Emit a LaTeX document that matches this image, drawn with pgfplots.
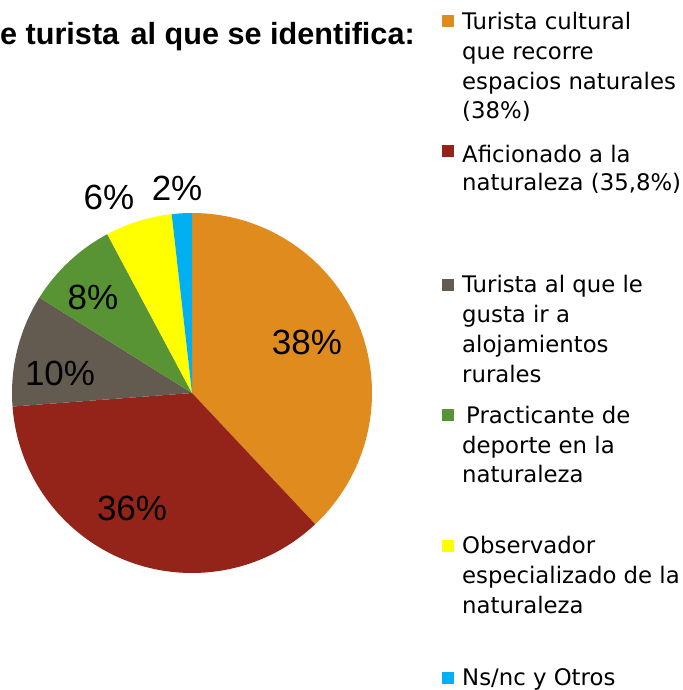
\documentclass[border=0pt]{standalone}
\usepackage{pgfplots}
\pgfplotsset{compat=1.18}
\usepackage{pgfplotstable}
\usepackage{fontspec}
\setmainfont{DejaVu Sans}
\newfontfamily\titlefont{Liberation Sans}
\newfontfamily\labelfont{Liberation Sans}
\definecolor{c0}{RGB}{224,139,30}
\definecolor{c1}{RGB}{148,36,26}
\definecolor{c2}{RGB}{99,90,80}
\definecolor{c3}{RGB}{89,148,52}
\definecolor{c4}{RGB}{255,255,0}
\definecolor{c5}{RGB}{0,176,240}
\pgfplotstableread{
val
38.0
35.8
10.1
8.3
6.0
1.8
}\piedata
\begin{document}
\begin{tikzpicture}
\begin{axis}[
  scale only axis, width=360pt, height=360pt,
  xmin=-1, xmax=1, ymin=-1, ymax=1,
  hide axis, clip=false,
  at={(12pt,-573pt)}, anchor=south west,
]
\def\cum{0}
\pgfplotsforeachungrouped \i in {0,...,5}{%
  \pgfplotstablegetelem{\i}{val}\of\piedata
  \pgfmathsetmacro\a{90-3.6*\cum}%
  \pgfmathsetmacro\cum{\cum+\pgfplotsretval}%
  \pgfmathsetmacro\b{90-3.6*\cum}%
  \pgfmathsetmacro\xa{cos(\a)}%
  \pgfmathsetmacro\ya{sin(\a)}%
  \edef\cmd{\noexpand\fill[c\i] (axis cs:0,0) -- (axis cs:\xa,\ya) arc[start angle=\a, end angle=\b, radius=180pt] -- cycle;}%
  \cmd
}
\begin{scope}[every node/.style={font=\labelfont\fontsize{35}{40}\selectfont, inner sep=0}]
\node at (axis cs:0.639,0.283) {38\%};
\node at (axis cs:-0.333,-0.639) {36\%};
\node at (axis cs:-0.733,0.111) {10\%};
\node at (axis cs:-0.550,0.533) {8\%};
\node at (axis cs:-0.461,1.089) {6\%};
\node at (axis cs:-0.083,1.139) {2\%};
\end{scope}
\end{axis}
% title
\node[anchor=base west, inner sep=0, font=\titlefont\bfseries\fontsize{30.6}{36}\selectfont] at (0pt,-45pt) {e turista \hspace{3pt}al que se identifica:};
% legend
\begin{scope}[every node/.style={anchor=base west, inner sep=0, font=\fontsize{22.8}{30}\selectfont}]
\fill[c0] (442pt,-15pt) rectangle (454pt,-27pt);
\node at (462pt,-30pt) {Turista cultural};
\node at (462pt,-60pt) {que recorre};
\node at (462pt,-90pt) {espacios naturales};
\node at (462pt,-119pt) {(38\%)};
\fill[c1] (442pt,-145pt) rectangle (454pt,-157pt);
\node at (462pt,-162pt) {Aficionado a la};
\node at (462pt,-190pt) {naturaleza (35,8\%)};
\fill[c2] (442pt,-279pt) rectangle (454pt,-291pt);
\node at (462pt,-292pt) {Turista al que le};
\node at (462pt,-322pt) {gusta ir a};
\node at (462pt,-352pt) {alojamientos};
\node at (462pt,-382pt) {rurales};
\fill[c3] (442pt,-409pt) rectangle (454pt,-421pt);
\node at (466pt,-423pt) {Practicante de};
\node at (462pt,-453pt) {deporte en la};
\node at (462pt,-482pt) {naturaleza};
\fill[c4] (442pt,-540pt) rectangle (454pt,-552pt);
\node at (462pt,-553pt) {Observador};
\node at (462pt,-583pt) {especializado de la};
\node at (462pt,-613pt) {naturaleza};
\fill[c5] (442pt,-671.5pt) rectangle (454pt,-683.5pt);
\node at (462pt,-685pt) {Ns/nc y Otros};
\end{scope}
\pgfresetboundingbox
\path[use as bounding box] (0pt,0pt) rectangle (682pt,-690pt);
\end{tikzpicture}
\end{document}
